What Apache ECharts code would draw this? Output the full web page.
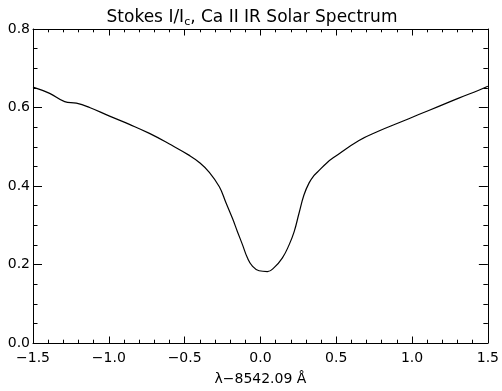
<!DOCTYPE html>
<html><head><meta charset="utf-8">
<script src="https://cdn.jsdelivr.net/npm/echarts@6/dist/echarts.min.js"></script>
<style>html,body{margin:0;padding:0;background:#fff}#c{width:502px;height:391px}</style>
</head><body><div id="c"></div>
<script>
const titleText = 'Stokes I/I{s|c}, Ca II IR Solar Spectrum';
const xName = 'λ−8542.09 Å';
const xMin = -1.5, xMax = 1.5, xStep = 0.5;
const yMin = 0.0, yMax = 0.8, yStep = 0.2;
const wavelength = [-1.5, -1.39, -1.291, -1.214, -1.127, -0.995, -0.864, -0.732, -0.6, -0.469, -0.403, -0.337, -0.271, -0.228, -0.184, -0.151, -0.118, -0.086, -0.053, -0.009, 0.046, 0.09, 0.145, 0.189, 0.222, 0.254, 0.287, 0.321, 0.354, 0.375, 0.441, 0.485, 0.65, 0.781, 0.913, 1.044, 1.176, 1.308, 1.44, 1.5];
const intensity = [0.652, 0.636, 0.615, 0.611, 0.6, 0.578, 0.557, 0.534, 0.507, 0.478, 0.46, 0.435, 0.398, 0.358, 0.317, 0.283, 0.25, 0.217, 0.196, 0.184, 0.182, 0.192, 0.217, 0.25, 0.283, 0.33, 0.377, 0.408, 0.427, 0.435, 0.46, 0.473, 0.516, 0.54, 0.561, 0.582, 0.603, 0.624, 0.644, 0.654];

const fmtX = v => (v < 0 ? '−' : '') + Math.abs(v).toFixed(1);
const fmtY = v => v.toFixed(1);
const FONT = 'DejaVu Sans';
const axisLine = {show: true, onZero: false, lineStyle: {color: '#000', width: 1}};
function xAx(pos, labels) {
  return {type: 'value', position: pos, min: xMin, max: xMax, interval: xStep,
    axisLine: axisLine, splitLine: {show: false},
    axisTick: {show: true, inside: true, length: 6.5, lineStyle: {color: '#000'}},
    minorTick: {show: true, splitNumber: 5, length: 3.3, lineStyle: {color: '#000'}},
    axisLabel: {show: labels, formatter: fmtX, color: '#000', fontFamily: FONT, fontSize: 14, margin: 8},
    name: labels ? xName : '', nameLocation: 'middle', nameGap: 29,
    nameTextStyle: {color: '#000', fontFamily: FONT, fontSize: 14}};
}
function yAx(pos, labels) {
  return {type: 'value', position: pos, min: yMin, max: yMax, interval: yStep,
    axisLine: axisLine, splitLine: {show: false},
    axisTick: {show: true, inside: true, length: 9, lineStyle: {color: '#000'}},
    minorTick: {show: true, splitNumber: 4, length: 4.5, lineStyle: {color: '#000'}},
    axisLabel: {show: labels, formatter: fmtY, color: '#000', fontFamily: FONT, fontSize: 14, margin: 3}};
}
const chart = echarts.init(document.getElementById('c'), null, {renderer: 'canvas'});
chart.setOption({
  animation: false,
  backgroundColor: '#fff',
  title: {text: titleText, left: 247, top: 3, textAlign: 'center',
    textStyle: {color: '#000', fontFamily: FONT, fontSize: 17, fontWeight: 'normal',
      rich: {s: {fontFamily: FONT, fontSize: 11, color: '#000', padding: [9, 0, 0, 0]}}}},
  grid: {left: 33, top: 29, width: 456, height: 321.5, containLabel: false},
  xAxis: [xAx('bottom', true), xAx('top', false)],
  yAxis: [yAx('left', true), yAx('right', false)],
  series: [{type: 'line', xAxisIndex: 0, yAxisIndex: 0, showSymbol: false, smooth: 0.45,
    data: wavelength.map((x, i) => [x, intensity[i]]),
    lineStyle: {color: '#000', width: 1.2}}]
});
</script></body></html>
